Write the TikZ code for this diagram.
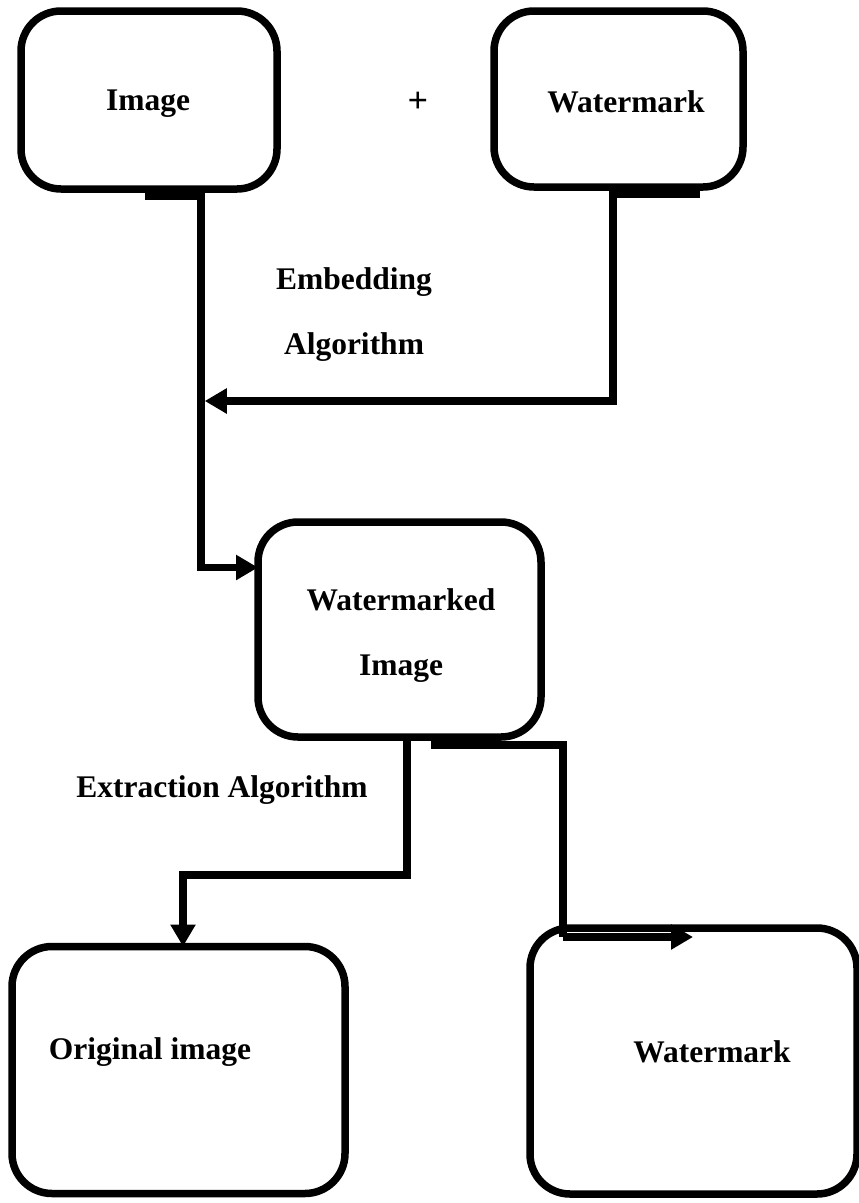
\documentclass[tikz,border=0pt]{standalone}
\usepackage{fontspec}
\setmainfont{Liberation Serif}
\usetikzlibrary{arrows.meta,calc}
\begin{document}
\begin{tikzpicture}[x=1pt,y=-1pt,
  box/.style={draw,line width=7.5pt,rounded corners=40pt,inner sep=0pt,outer sep=0pt,align=center},
  lbl/.style={font=\fontsize{31.5}{65}\selectfont\bfseries,align=center,inner sep=0pt},
  conn/.style={line width=7.5pt},
  arr/.style={conn,-{Triangle[length=22pt,width=24pt]}}]
\useasboundingbox (0,0) rectangle (859,1203);
% boxes
\node[box,minimum width=256pt,minimum height=178pt] (img) at (149,100) {};
\node[lbl] (imgt) at (148,104) {Image};
\node[box,minimum width=249pt,minimum height=176pt] (wm) at (618.5,99) {};
\node[lbl] (wmt) at (626,102) {Watermark};
\node[lbl] (plus) at (418,102) {\fontsize{36}{40}\selectfont +};
\node[box,minimum width=283pt,minimum height=215pt] (wmd) at (399.5,629.5) {};
\node[lbl] (wmdt) at (401,636) {Watermarked\\Image};
\node[box,minimum width=333pt,minimum height=247pt] (orig) at (178.5,1070) {};
\node[lbl] (origt) at (150,1052) {Original image};
\node[box,minimum width=327pt,minimum height=266pt] (wm2) at (693.5,1061) {};
\node[lbl] (wm2t) at (712,1052) {Watermark};
% labels
\node[lbl] (emb) at (354,315) {Embedding\\Algorithm};
\node[lbl] (ext) at (222,790) {Extraction Algorithm};
% connectors
\coordinate (j) at ($(img.south)+(55.75,212)$);
\draw[arr] ($(img.south)+(-4,7.5)$) -- ++(56,0) |- ($(wmd.west)+(0,-62)$);
\draw[arr] ($(wm.south)+(81.5,7)$) -- ++(-87,0) |- (j);
\draw[arr] ($(wmd.south)+(7.5,4)$) |- ++(-224,134) -- ($(orig.north)+(4.5,0)$);
\draw[conn] ($(wmd.south)+(31.5,8)$) -- ++(132,0) coordinate (k) -- ++(0,192);
\draw[arr] ($(k)+(0,192)$) -- ++(130,0);
\end{tikzpicture}
\end{document}
